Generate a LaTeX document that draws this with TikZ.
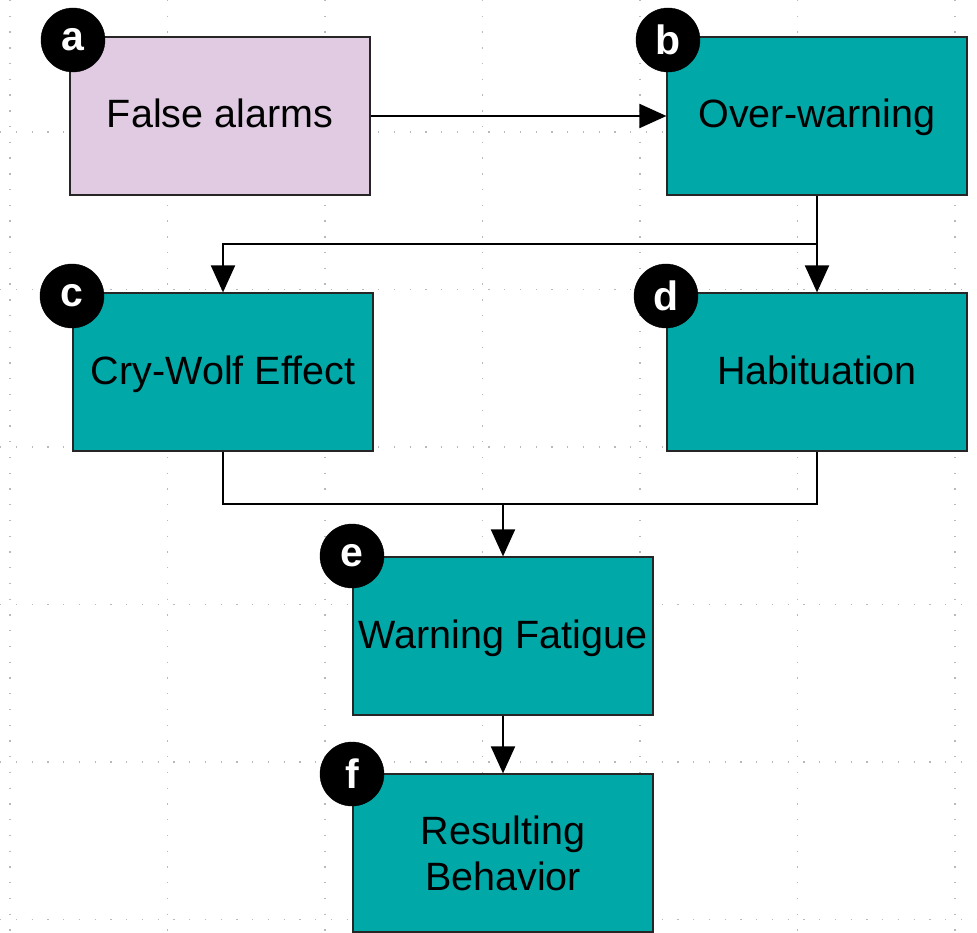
\documentclass[tikz,border=0pt]{standalone}
\usepackage{fontspec}
\setmainfont{Liberation Sans}
\usetikzlibrary{arrows.meta}
\definecolor{teal1}{RGB}{0,168,168}
\definecolor{lilac}{RGB}{224,203,227}
\definecolor{gridc}{RGB}{185,185,185}
\tikzset{
  boxbase/.style={draw=black!85, line width=1.2pt, minimum width=300pt, minimum height=158pt, inner sep=0pt, align=center, font=\fontsize{39.5}{46}\selectfont, text=black},
  box/.style={boxbase, text height=30pt, text depth=6pt},
  badge/.style={circle, fill=black, draw=black, minimum size=64pt, inner sep=0pt, text=white, font=\bfseries\fontsize{41}{41}\selectfont},
  conn/.style={line width=2pt, draw=black},
  arr/.style={conn, -{Triangle[length=27pt,width=24pt]}},
  gridline/.style={draw=gridc, line width=1.3pt, dash pattern=on 1.3pt off 14.45pt}
}
\begin{document}
\begin{tikzpicture}[x=1pt,y=-1pt]
\useasboundingbox (0,0) rectangle (977,933);
\fill[white] (0,0) rectangle (977,933);
% grid
\foreach \gx in {10,167.5,325,482.5,640,797.5,955} {
  \draw[gridline] (\gx,0) -- (\gx,933);
}
\foreach \gy in {132,289.5,447,604.5,762,919.5} {
  \draw[gridline] (0,\gy) -- (977,\gy);
}
% boxes
\node[box, fill=lilac] (a) at (220,116) {False alarms};
\node[box, fill=teal1] (b) at (817,116) {Over-warning};
\node[box, fill=teal1] (c) at (223,372) {Cry-Wolf Effect};
\node[box, fill=teal1] (d) at (817,372) {Habituation};
\node[box, fill=teal1] (e) at (503,636) {Warning Fatigue};
\node[boxbase, fill=teal1] (f) at (503,853) {Resulting\\Behavior};
% badges
\node[badge] (ba) at (73,40) {a};
\node[badge] (bb) at (668,40) {b};
\node[badge] (bc) at (72,296) {c};
\node[badge] (bd) at (666,296) {d};
\node[badge] (be) at (352,556) {e};
\node[badge] (bf) at (352,774) {f};
% connectors
\coordinate (j1) at (817,244);
\coordinate (j2) at (503,504);
\draw[arr] (a.east) -- (b.west);
\draw[arr] (b.south) -- (d.north);
\draw[arr] (j1) -| (c.north);
\draw[conn] (c.south) |- (j2) -| (d.south);
\draw[arr] (j2) -- (e.north);
\draw[arr] (e.south) -- (f.north);
\end{tikzpicture}
\end{document}
